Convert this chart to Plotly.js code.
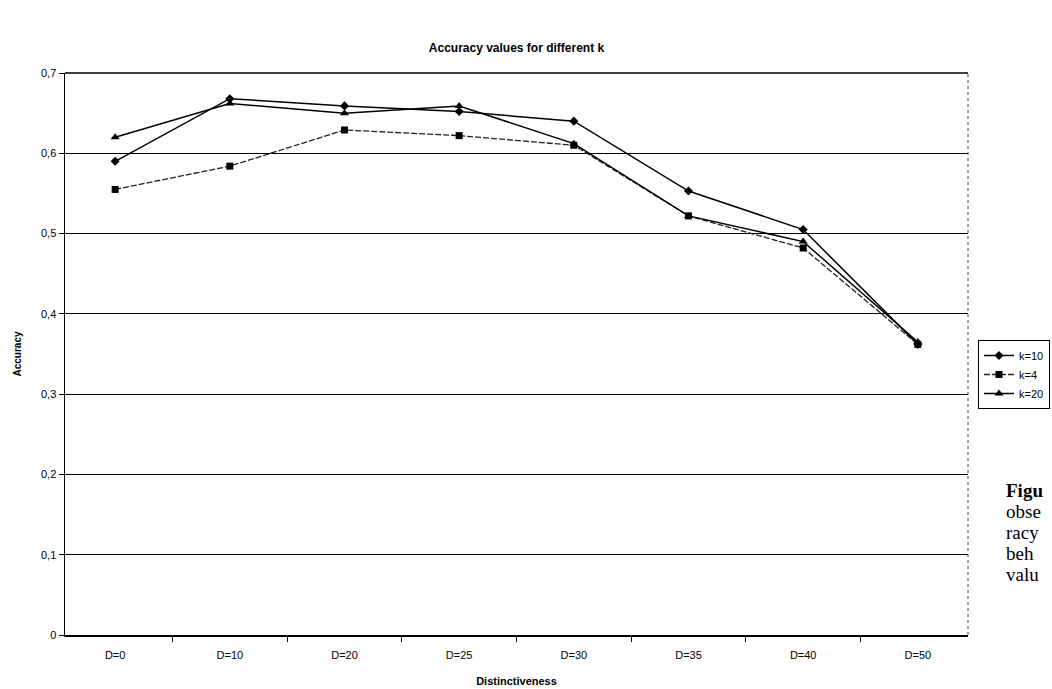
<!DOCTYPE html>
<html>
<head>
<meta charset="utf-8">
<script src="https://cdn.plot.ly/plotly-3.0.1.min.js"></script>
<style>html,body{margin:0;padding:0;background:#fff;}#chart{width:1052px;height:689px;}</style>
</head>
<body>
<div id="chart"></div>
<script>
const categories = ["D=0","D=10","D=20","D=25","D=30","D=35","D=40","D=50"];
const k10 = [0.590, 0.668, 0.659, 0.652, 0.640, 0.553, 0.505, 0.362];
const k4  = [0.555, 0.584, 0.629, 0.622, 0.610, 0.522, 0.482, 0.362];
const k20 = [0.620, 0.662, 0.650, 0.659, 0.612, 0.522, 0.490, 0.365];
const seriesNames = ["k=10","k=4","k=20"];
const sideText = ["Figu","obse","racy","beh","valu"];

const font = "Liberation Sans, Arial, sans-serif";
const traces = [
  {x: categories, y: k10, name: seriesNames[0], type: "scatter", mode: "lines+markers",
   line: {color: "#000", width: 1.5}, marker: {symbol: "diamond", size: 7, color: "#000"}},
  {x: categories, y: k4, name: seriesNames[1], type: "scatter", mode: "lines+markers",
   line: {color: "#222", width: 1.3, dash: "6px,2px"}, marker: {symbol: "square", size: 7, color: "#000"}},
  {x: categories, y: k20, name: seriesNames[2], type: "scatter", mode: "lines+markers",
   line: {color: "#000", width: 1.5}, marker: {symbol: "triangle-up", size: 8, color: "#000"}}
];

const L = 65, R = 968, T = 73, B = 635, W = 1052, H = 689;
const pw = R - L, ph = B - T;
const annotations = sideText.map((t, i) => ({
  text: i === 0 ? "<b>" + t + "</b>" : t,
  xref: "paper", yref: "paper",
  x: (1004 - L) / pw, y: (B - (491 + i * 20.8)) / ph,
  xanchor: "left", yanchor: "middle", showarrow: false,
  font: {family: "Liberation Serif, Times New Roman, serif", size: 19, color: "#000"}
}));

const layout = {
  width: W, height: H,
  margin: {l: L, r: W - R, t: T, b: H - B, autoexpand: false},
  paper_bgcolor: "#fff", plot_bgcolor: "#fff",
  separators: ",.",
  font: {family: font, color: "#000", size: 11},
  title: {text: "<b>Accuracy values for different k</b>", x: 0.5, xref: "paper",
          y: 1 - 48 / H, yref: "container", yanchor: "middle",
          font: {family: font, size: 12, color: "#000"}},
  xaxis: {type: "category", showline: true, linecolor: "#000", linewidth: 1.5,
          ticks: "outside", tickson: "boundaries", ticklen: 5, tickcolor: "#000",
          ticklabelstandoff: 9, showgrid: false, zeroline: false,
          tickfont: {family: font, size: 11, color: "#000"},
          title: {text: "<b>Distinctiveness</b>", standoff: 17, font: {family: font, size: 11, color: "#000"}}},
  yaxis: {range: [0, 0.7], dtick: 0.1, showline: true, linecolor: "#000", linewidth: 1.5,
          ticks: "outside", ticklen: 5, tickcolor: "#000", showgrid: true, gridcolor: "#000",
          gridwidth: 1, zeroline: false, tickfont: {family: font, size: 11, color: "#000"},
          title: {text: "<b>Accuracy</b>", standoff: 17, font: {family: font, size: 10, color: "#000"}}},
  legend: {x: (978 - L) / pw, y: (B - 340) / ph, xanchor: "left", yanchor: "top",
           bgcolor: "#fff", bordercolor: "#000", borderwidth: 1,
           font: {family: font, size: 11, color: "#000"}, tracegroupgap: 0},
  shapes: [
    {type: "line", xref: "paper", yref: "paper", x0: 0, x1: 1, y0: 1, y1: 1, line: {color: "#000", width: 1.5}},
    {type: "line", xref: "paper", yref: "paper", x0: 1, x1: 1, y0: 0, y1: 1, line: {color: "#444", width: 1, dash: "dot"}}
  ],
  annotations: annotations
};

Plotly.newPlot("chart", traces, layout, {displayModeBar: false, staticPlot: true});
</script>
</body>
</html>
